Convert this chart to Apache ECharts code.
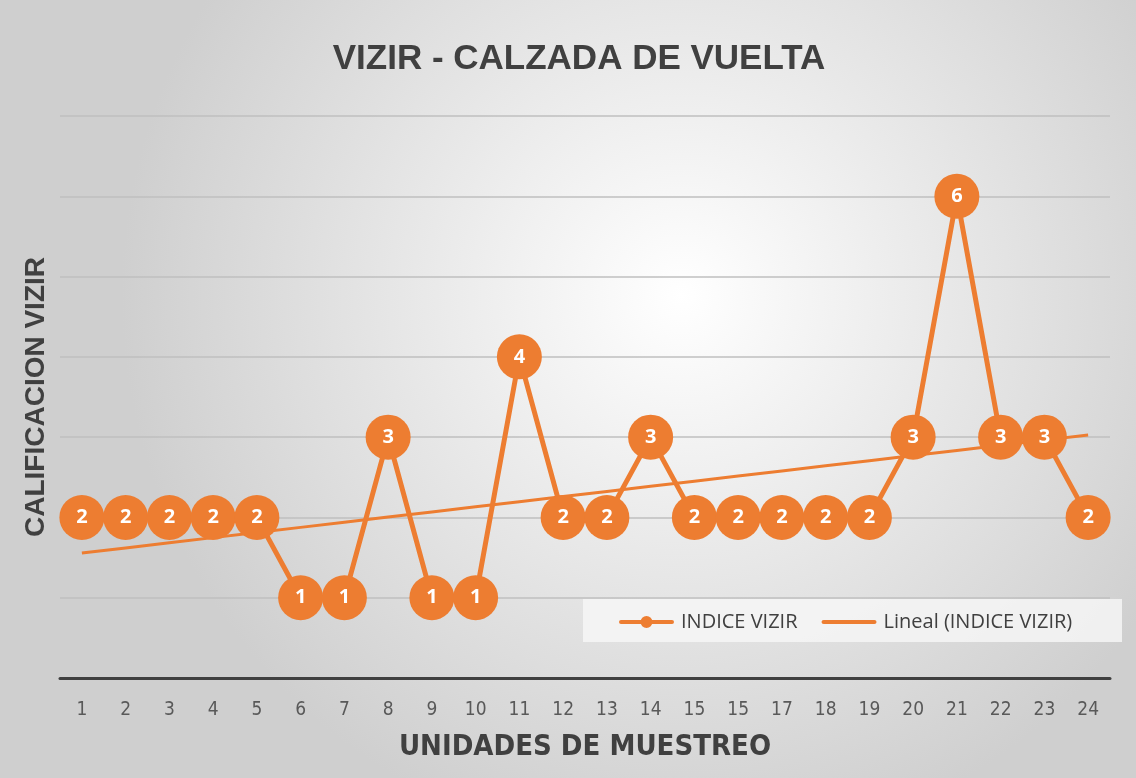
<!DOCTYPE html>
<html>
<head>
<meta charset="utf-8">
<script src="https://cdn.jsdelivr.net/npm/echarts@6/dist/echarts.min.js"></script>
<style>
  html, body { margin: 0; padding: 0; }
  #chart { width: 1136px; height: 778px; }
</style>
</head>
<body>
<div id="chart"></div>
<script>
'use strict';
// categories as printed on the chart (note "15" appears twice)
var unidades = ['1', '2', '3', '4', '5', '6', '7', '8', '9', '10', '11', '12',
    '13', '14', '15', '15', '17', '18', '19', '20', '21', '22', '23', '24'];
var indiceVizir = [2, 2, 2, 2, 2, 1, 1, 3, 1, 1, 4, 2, 2, 3, 2, 2, 2, 2, 2, 3, 6, 3, 3, 2];

var naranja = '#ED7D31';
var narrowFont = "'Liberation Sans Narrow', 'DejaVu Sans Condensed', 'Liberation Sans', sans-serif";

// linear trend (least squares), like Excel's "Lineal" trendline
function tendencia(ys) {
    var n = ys.length, sx = 0, sy = 0, sxy = 0, sxx = 0;
    for (var i = 0; i < n; i++) {
        var x = i + 1;
        sx += x; sy += ys[i]; sxy += x * ys[i]; sxx += x * x;
    }
    var m = (n * sxy - sx * sy) / (n * sxx - sx * sx);
    var b = (sy - m * sx) / n;
    var out = [];
    for (var j = 0; j < n; j++) {
        out.push(+(m * (j + 1) + b).toFixed(4));
    }
    return out;
}

var chart = echarts.init(document.getElementById('chart'));
var option = {
    animation: false,
    backgroundColor: {
        type: 'radial', x: 0.6, y: 0.38, r: 0.72,
        colorStops: [
            {offset: 0, color: '#ffffff'},
            {offset: 1, color: '#cfcfcf'}
        ]
    },
    title: {
        text: 'VIZIR - CALZADA DE VUELTA',
        left: 574,
        top: 37,
        textAlign: 'center',
        textStyle: {
            fontFamily: 'Liberation Sans',
            fontWeight: 'bold',
            fontSize: 35,
            color: '#404040'
        }
    },
    graphic: [{
        type: 'rect',
        shape: {x: 583, y: 599, width: 539, height: 43},
        style: {fill: 'rgba(246,246,246,0.85)'},
        z: 5
    }],
    legend: {
        left: 614,
        top: 607,
        itemWidth: 55,
        itemHeight: 14,
        itemGap: 24,
        z: 10,
        textStyle: {
            fontFamily: 'Open Sans',
            fontSize: 20,
            color: '#404040',
            padding: [0, 0, 0, 2]
        },
        data: [
            {name: 'INDICE VIZIR',
             icon: 'path://M2,5 L53,5 A2,2 0 0 1 53,9 L2,9 A2,2 0 0 1 2,5 Z M27.5,1 A6,6 0 1 1 27.49,1 Z'},
            {name: 'Lineal (INDICE VIZIR)',
             icon: 'path://M2,0 L50,0 A2,2 0 0 1 50,4 L2,4 A2,2 0 0 1 2,0 Z'}
        ]
    },
    grid: {
        left: 60,
        right: 26,
        top: 116,
        bottom: 100
    },
    xAxis: {
        type: 'category',
        data: unidades,
        boundaryGap: true,
        name: 'UNIDADES DE MUESTREO',
        nameLocation: 'middle',
        nameGap: 55,
        nameTextStyle: {
            fontFamily: narrowFont,
            fontWeight: 'bold',
            fontSize: 29,
            color: '#404040'
        },
        axisLine: {lineStyle: {color: '#404040', width: 3}},
        axisTick: {show: false},
        axisLabel: {
            margin: 23,
            fontFamily: narrowFont,
            fontSize: 19,
            color: '#595959'
        }
    },
    yAxis: {
        type: 'value',
        min: 0,
        max: 7,
        interval: 1,
        name: 'CALIFICACION VIZIR',
        nameLocation: 'middle',
        nameRotate: 90,
        nameGap: 10,
        nameTextStyle: {
            fontFamily: 'Liberation Sans',
            fontWeight: 'bold',
            fontSize: 28,
            color: '#404040'
        },
        axisLine: {show: false},
        axisTick: {show: false},
        axisLabel: {show: false},
        splitLine: {lineStyle: {color: '#bfbfbf', width: 1.5}}
    },
    series: [
        {
            name: 'INDICE VIZIR',
            type: 'line',
            data: indiceVizir,
            symbol: 'circle',
            symbolSize: 45,
            z: 3,
            itemStyle: {color: naranja},
            lineStyle: {color: naranja, width: 5},
            label: {
                show: true,
                position: 'inside',
                fontFamily: 'Open Sans',
                fontWeight: 'bold',
                fontSize: 20,
                color: '#ffffff'
            }
        },
        {
            name: 'Lineal (INDICE VIZIR)',
            type: 'line',
            data: tendencia(indiceVizir),
            symbol: 'none',
            z: 2,
            itemStyle: {color: naranja},
            lineStyle: {color: naranja, width: 3}
        }
    ]
};
chart.setOption(option);
</script>
</body>
</html>
